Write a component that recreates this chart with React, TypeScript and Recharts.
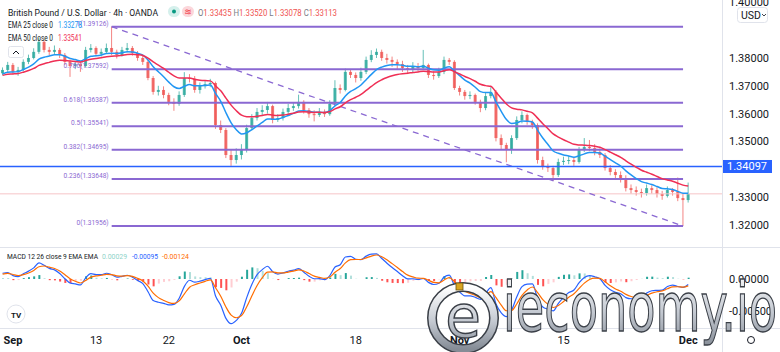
import React from "react";
import { ComposedChart, Bar, Line, XAxis, YAxis, ReferenceLine, Cell } from "recharts";

const FONT = "Roboto, 'Noto Sans', sans-serif";
const UP = "#26a69a";
const DOWN = "#ef5350";
const FIB_COLOR = "#8a68d2";

// GBPUSD, two 12h candles per trading day (Aug 31 .. Dec 1), open = previous close
const FIRST_OPEN = 1.3745;
const CLOSE = [
  1.3757, 1.3775, 1.375, 1.3757, 1.3786, 1.38, 1.3822, 1.3858, 1.3829, 1.3822,
  1.3829, 1.3811, 1.3786, 1.3771, 1.3778, 1.3771, 1.3829, 1.3836, 1.3815, 1.3822,
  1.3836, 1.3822, 1.3811, 1.3829, 1.3836, 1.3818, 1.38, 1.3786, 1.3728, 1.3678,
  1.3685, 1.3667, 1.3642, 1.3635, 1.3667, 1.3728, 1.3726, 1.3685, 1.3699, 1.3706,
  1.371, 1.3559, 1.3541, 1.3451, 1.3433, 1.3451, 1.3469, 1.3548, 1.3584, 1.3606,
  1.3613, 1.3627, 1.3577, 1.3584, 1.3606, 1.362, 1.3627, 1.3642, 1.3613, 1.3598,
  1.3595, 1.3606, 1.3598, 1.3635, 1.3692, 1.3685, 1.375, 1.3739, 1.3728, 1.375,
  1.3793, 1.3811, 1.3822, 1.38, 1.3793, 1.3786, 1.3778, 1.3764, 1.3757, 1.3771,
  1.3764, 1.3775, 1.3739, 1.3735, 1.375, 1.3793, 1.3786, 1.3692, 1.3678, 1.3663,
  1.3667, 1.3642, 1.362, 1.3663, 1.3678, 1.3512, 1.3487, 1.3469, 1.3512, 1.3577,
  1.3595, 1.357, 1.3559, 1.3433, 1.3408, 1.3404, 1.3379, 1.3426, 1.343, 1.3433,
  1.3426, 1.3469, 1.348, 1.3476, 1.3462, 1.3451, 1.3404, 1.339, 1.3379, 1.3368,
  1.3332, 1.3325, 1.3318, 1.3314, 1.3332, 1.3325, 1.3311, 1.3304, 1.3325, 1.3318,
  1.3296, 1.3289, 1.3311,
];
const HIGH = [
  1.3766, 1.3786, 1.3782, 1.3768, 1.3795, 1.3812, 1.3835, 1.3872, 1.3864, 1.384,
  1.3845, 1.3836, 1.3818, 1.3795, 1.379, 1.3786, 1.384, 1.385, 1.3842, 1.3834,
  1.3852, 1.3913, 1.383, 1.384, 1.3854, 1.3843, 1.3825, 1.3808, 1.3792, 1.3735,
  1.37, 1.3698, 1.3675, 1.3655, 1.368, 1.3749, 1.3742, 1.3735, 1.3712, 1.372,
  1.3725, 1.3715, 1.3575, 1.3548, 1.347, 1.3475, 1.349, 1.356, 1.3598, 1.362,
  1.363, 1.3642, 1.3632, 1.3598, 1.3618, 1.3635, 1.364, 1.3668, 1.3648, 1.362,
  1.3612, 1.362, 1.3615, 1.3648, 1.372, 1.3705, 1.3762, 1.3758, 1.3748, 1.3765,
  1.3805, 1.3828, 1.3834, 1.383, 1.3815, 1.3805, 1.3795, 1.379, 1.3775, 1.3785,
  1.3782, 1.3829, 1.378, 1.3752, 1.3765, 1.3805, 1.38, 1.3792, 1.37, 1.3685,
  1.368, 1.3672, 1.365, 1.3675, 1.3695, 1.3685, 1.3525, 1.3495, 1.3522, 1.359,
  1.3608, 1.36, 1.3578, 1.3565, 1.3445, 1.342, 1.3412, 1.3438, 1.3445, 1.3448,
  1.3442, 1.348, 1.3512, 1.3505, 1.349, 1.3475, 1.3458, 1.3415, 1.34, 1.3392,
  1.3378, 1.3345, 1.3338, 1.333, 1.3345, 1.3342, 1.3335, 1.3322, 1.3338, 1.3332,
  1.337, 1.3312, 1.3352,
];
const LOW = [
  1.3738, 1.375, 1.3742, 1.3736, 1.3752, 1.3778, 1.3795, 1.3815, 1.382, 1.381,
  1.3814, 1.38, 1.3775, 1.3732, 1.376, 1.375, 1.3765, 1.382, 1.3806, 1.3805,
  1.3815, 1.381, 1.3798, 1.3805, 1.382, 1.3808, 1.379, 1.3775, 1.372, 1.3668,
  1.3665, 1.3655, 1.363, 1.361, 1.3628, 1.366, 1.3712, 1.3675, 1.3672, 1.369,
  1.3695, 1.3545, 1.353, 1.344, 1.3412, 1.342, 1.3435, 1.346, 1.354, 1.3575,
  1.3595, 1.36, 1.3565, 1.357, 1.3575, 1.3598, 1.361, 1.3618, 1.36, 1.3585,
  1.3572, 1.3588, 1.3588, 1.3592, 1.3628, 1.3672, 1.368, 1.3728, 1.3712, 1.3718,
  1.3742, 1.3785, 1.38, 1.379, 1.378, 1.3768, 1.376, 1.375, 1.3742, 1.3748,
  1.3752, 1.3758, 1.3728, 1.3722, 1.3728, 1.3742, 1.3775, 1.3685, 1.3665, 1.365,
  1.3652, 1.3632, 1.3605, 1.3612, 1.3655, 1.35, 1.3472, 1.3425, 1.3455, 1.3505,
  1.3565, 1.356, 1.3545, 1.342, 1.3398, 1.339, 1.3358, 1.3372, 1.3415, 1.3418,
  1.3412, 1.342, 1.3462, 1.3465, 1.345, 1.344, 1.3395, 1.3378, 1.3365, 1.3352,
  1.332, 1.3312, 1.3305, 1.3298, 1.3305, 1.3312, 1.3298, 1.329, 1.3298, 1.3305,
  1.3285, 1.3196, 1.328,
];
const SLOTS = 139; // candles plus empty space on the right

// indicator state carried in from before the visible window
const EMA25_SEED = 1.3738;
const EMA50_SEED = 1.3735;
const FAST_SEED = 1.376;
const SLOW_SEED = 1.3748;
const SIGNAL_SEED = 0.0006;
const BARS_PER_CANDLE = 3; // 4h bars inside one 12h candle

const TICK_IDX = [2, 18, 32, 46, 68, 88, 108, 132];
const TICK_LABELS = ["Sep", "13", "22", "Oct", "18", "Nov", "15", "Dec"];
const MONTHS = ["Sep", "Oct", "Nov", "Dec"];

const PRICE_TICKS = [1.32, 1.33, 1.34, 1.35, 1.36, 1.37, 1.38, 1.4];
const PRICE_DOMAIN = [1.31201, 1.40086];
const MACD_TICKS = [0, -0.005];
const MACD_DOMAIN = [-0.00766, 0.00484];

const FIB_HIGH = 1.39126;
const FIB_LOW = 1.31956;
const FIB_FROM = 21;
const FIB_TO = 131;
const FIB_RATIOS = [1, 0.786, 0.618, 0.5, 0.382, 0.236, 0];
const H_LINE = 1.34097;
const LAST_CLOSE = 1.33113;

const HEADER_OHLC = ["1.33435", "1.33520", "1.33078", "1.33113"];
const EMA_LEGEND = ["1.33278", "1.33541"];
const MACD_LEGEND = ["0.00029", "-0.00095", "-0.00124"];

const alpha = (n: number) => 1 - Math.pow(1 - 2 / (n + 1), BARS_PER_CANDLE);

function buildRows() {
  let e25 = EMA25_SEED;
  let e50 = EMA50_SEED;
  let fast = FAST_SEED;
  let slow = SLOW_SEED;
  let sig = SIGNAL_SEED;
  let prevHist = FAST_SEED - SLOW_SEED - SIGNAL_SEED;
  const rows: any[] = CLOSE.map((c, i) => {
    const open = i === 0 ? FIRST_OPEN : CLOSE[i - 1];
    e25 += alpha(25) * (c - e25);
    e50 += alpha(50) * (c - e50);
    fast += alpha(12) * (c - fast);
    slow += alpha(26) * (c - slow);
    const macd = fast - slow;
    sig += alpha(9) * (macd - sig);
    const hist = macd - sig;
    let histColor;
    if (hist >= 0) histColor = hist >= prevHist ? "#26a69a" : "#b2dfdb";
    else histColor = hist < prevHist ? "#ff5252" : "#ffcdd2";
    prevHist = hist;
    return {
      i,
      range: [LOW[i], HIGH[i]],
      open,
      close: c,
      high: HIGH[i],
      low: LOW[i],
      ema25: e25,
      ema50: e50,
      macd,
      signal: sig,
      hist,
      histColor,
    };
  });
  for (let i = CLOSE.length; i < SLOTS; i++) rows.push({ i });
  return rows;
}

const rows = buildRows();

function Candle(props: any) {
  const { x, y, width, height, payload } = props;
  if (!payload || payload.open == null) return null;
  const { open, close, high, low } = payload;
  const top = Math.min(y, y + height);
  const h = Math.abs(height);
  const k = h / (high - low);
  const yO = top + (high - open) * k;
  const yC = top + (high - close) * k;
  const color = close >= open ? UP : DOWN;
  const cx = x + width / 2;
  return (
    <g>
      <line x1={cx} x2={cx} y1={top} y2={top + h} stroke={color} strokeWidth={1} opacity={0.7} />
      <rect
        x={x}
        y={Math.min(yO, yC)}
        width={width}
        height={Math.max(1, Math.abs(yO - yC))}
        fill={color}
        opacity={0.8}
      />
    </g>
  );
}

function FibLabel(props: any) {
  const { viewBox, text } = props;
  if (!viewBox) return null;
  return (
    <text x={viewBox.x - 3} y={viewBox.y - 1} textAnchor="end" fontSize={6.6} fill={FIB_COLOR} fontFamily={FONT}>
      {text}
    </text>
  );
}

// price axis tick; the blue horizontal level gets a filled tag
function PriceTick(props: any) {
  const { x, y, payload } = props;
  const v = Number(payload.value);
  if (v === H_LINE) {
    return (
      <g>
        <rect x={x - 7} y={y - 6.5} width={50} height={13} fill="#2962ff" />
        <text x={x - 7 + 25} y={y + 4} textAnchor="middle" fontSize={11} fill="#fff" fontFamily={FONT}>
          {v.toFixed(5)}
        </text>
      </g>
    );
  }
  return (
    <text x={x} y={y + 4} fontSize={11} fill="#131722" fontFamily={FONT}>
      {v.toFixed(5)}
    </text>
  );
}

function TimeTick(props: any) {
  const { x, y, payload } = props;
  const label = TICK_LABELS[TICK_IDX.indexOf(Number(payload.value))];
  if (!label) return null;
  return (
    <text
      x={x}
      y={y + 14}
      textAnchor="middle"
      fontSize={11}
      fontWeight={MONTHS.includes(label) ? 700 : 400}
      fill="#131722"
      fontFamily={FONT}
    >
      {label}
    </text>
  );
}

const fibText = (r: number) => `${r}(${(FIB_LOW + r * (FIB_HIGH - FIB_LOW)).toFixed(5)})`;

function Overlay() {
  const t = { fontFamily: FONT, fontSize: 8.5 };
  return (
    <svg width={780} height={352} style={{ position: "absolute", left: 0, top: 0, pointerEvents: "none" }}>
      <defs>
        <linearGradient id="wm" x1="0" y1="0" x2="0" y2="1">
          <stop offset="0" stopColor="#ffffff" />
          <stop offset="0.55" stopColor="#c5cad2" />
          <stop offset="1" stopColor="#858c96" />
        </linearGradient>
      </defs>
      <line x1={722.5} x2={722.5} y1={0} y2={352} stroke="#e0e3eb" />
      <line x1={0} x2={780} y1={247.5} y2={247.5} stroke="#e0e3eb" />
      <line x1={0} x2={780} y1={328.5} y2={328.5} stroke="#e0e3eb" />

      <text x={8} y={16} {...t} fontSize={9.5} fill="#131722" textLength={150} lengthAdjust="spacingAndGlyphs">
        British Pound / U.S. Dollar · 4h · OANDA
      </text>
      <rect x={168} y={6} width={12} height={11} rx={5.5} fill="#d5f0ec" />
      <circle cx={174} cy={11.5} r={2} fill="#089981" />
      <rect x={182} y={6} width={12} height={11} rx={5.5} fill="#fbd7db" />
      <text x={188} y={15} textAnchor="middle" fontSize={9} fill="#f23645" fontFamily="'DejaVu Sans'">≋</text>
      <text x={198} y={16} {...t} fontSize={9} fill="#787b86" textLength={139} lengthAdjust="spacingAndGlyphs">
        O<tspan fill={DOWN}>{HEADER_OHLC[0]}</tspan> H<tspan fill={DOWN}>{HEADER_OHLC[1]}</tspan> L<tspan fill={DOWN}>{HEADER_OHLC[2]}</tspan> C<tspan fill={DOWN}>{HEADER_OHLC[3]}</tspan>
      </text>

      <text x={8} y={28} {...t} fill="#131722" textLength={45} lengthAdjust="spacingAndGlyphs">EMA 25 close 0</text>
      <text x={58} y={28} {...t} fill="#2196f3" textLength={24} lengthAdjust="spacingAndGlyphs">{EMA_LEGEND[0]}</text>
      <text x={8} y={41} {...t} fill="#131722" textLength={45} lengthAdjust="spacingAndGlyphs">EMA 50 close 0</text>
      <text x={58} y={41} {...t} fill="#ef2f55" textLength={24} lengthAdjust="spacingAndGlyphs">{EMA_LEGEND[1]}</text>
      <rect x={8.5} y={46.5} width={15} height={11} rx={2} fill="#fff" stroke="#e0e3eb" />
      <path d="M13 54 L16 51 L19 54" fill="none" stroke="#131722" strokeWidth={1} />

      <text x={7} y={259} {...t} fontSize={8} fill="#131722" textLength={91} lengthAdjust="spacingAndGlyphs">MACD 12 26 close 9 EMA EMA</text>
      <text x={102} y={259} {...t} fontSize={8} fill="#8fd3c9" textLength={25} lengthAdjust="spacingAndGlyphs">{MACD_LEGEND[0]}</text>
      <text x={132} y={259} {...t} fontSize={8} fill="#2962ff" textLength={26} lengthAdjust="spacingAndGlyphs">{MACD_LEGEND[1]}</text>
      <text x={162} y={259} {...t} fontSize={8} fill="#ff6d00" textLength={27} lengthAdjust="spacingAndGlyphs">{MACD_LEGEND[2]}</text>

      <circle cx={16} cy={314} r={9} fill="#fff" stroke="#e0e3eb" />
      <text x={16} y={317.5} textAnchor="middle" fontSize={8} fontWeight={700} fill="#131722" fontFamily={FONT}>TV</text>

      <rect x={737.5} y={7.5} width={30} height={15} rx={3} fill="#fff" stroke="#e0e3eb" />
      <text x={741} y={19} fontSize={10.5} fill="#131722" fontFamily={FONT}>USD</text>
      <path d="M762 14 L764 16 L766 14" fill="none" stroke="#131722" strokeWidth={0.8} />
      <circle cx={751} cy={340} r={3.5} fill="none" stroke="#131722" strokeWidth={1} />

      <circle cx={463} cy={318} r={31} fill="none" stroke="#3a3f47" strokeWidth={10} />
      <circle cx={463} cy={318} r={31} fill="none" stroke="url(#wm)" strokeWidth={7} />
      <text x={463} y={337} textAnchor="middle" fontSize={58} fontFamily="'DejaVu Sans', sans-serif" fill="url(#wm)" stroke="#3a3f47" strokeWidth={1.4}>
        e
      </text>
      <rect x={456} y={283} width={7} height={7} fill="#d9a520" stroke="#6b5310" strokeWidth={0.8} />
      <text
        x={503}
        y={331}
        fontSize={68}
        fontFamily="'DejaVu Sans', sans-serif"
        textLength={274}
        lengthAdjust="spacingAndGlyphs"
        fill="url(#wm)"
        stroke="#3a3f47"
        strokeWidth={1.4}
      >
        ieconomy.io
      </text>
    </svg>
  );
}

export default function App() {
  const axisTick = { fontSize: 11, fill: "#131722", fontFamily: FONT };
  return (
    <div style={{ position: "absolute", left: 0, top: 0, width: 780, height: 352, background: "#fff", fontFamily: FONT }}>
      <div style={{ position: "absolute", left: 0, top: 0 }}>
        <ComposedChart width={780} height={247} data={rows} margin={{ top: 0, right: 0, bottom: 0, left: 0 }}>
          <XAxis dataKey="i" type="category" hide />
          <YAxis
            orientation="right"
            width={58}
            domain={PRICE_DOMAIN}
            ticks={[...PRICE_TICKS, H_LINE]}
            interval={0}
            allowDataOverflow
            axisLine={false}
            tickLine={false}
            tickSize={0}
            tickMargin={7}
            tick={(p: any) => <PriceTick {...p} />}
          />
          <ReferenceLine y={LAST_CLOSE} stroke="#f6c4c7" strokeWidth={1} />
          {FIB_RATIOS.map((r) => {
            const level = FIB_LOW + r * (FIB_HIGH - FIB_LOW);
            return (
              <ReferenceLine
                key={r}
                segment={[
                  { x: FIB_FROM, y: level },
                  { x: FIB_TO, y: level },
                ]}
                stroke={FIB_COLOR}
                strokeWidth={2}
                label={(p: any) => <FibLabel {...p} text={fibText(r)} />}
              />
            );
          })}
          <ReferenceLine
            segment={[
              { x: FIB_FROM, y: FIB_HIGH },
              { x: FIB_TO, y: FIB_LOW },
            ]}
            stroke={FIB_COLOR}
            strokeWidth={1.3}
            strokeDasharray="6 5"
          />
          <ReferenceLine y={H_LINE} stroke="#2962ff" strokeWidth={1.5} />
          <Bar dataKey="range" barSize={3} shape={(p: any) => <Candle {...p} />} isAnimationActive={false} />
          <Line dataKey="ema25" type="monotone" stroke="#2196f3" strokeWidth={1.5} dot={false} activeDot={false} isAnimationActive={false} />
          <Line dataKey="ema50" type="monotone" stroke="#ef2f55" strokeWidth={1.5} dot={false} activeDot={false} isAnimationActive={false} />
        </ComposedChart>
      </div>
      <div style={{ position: "absolute", left: 0, top: 247 }}>
        <ComposedChart width={780} height={105} data={rows} margin={{ top: 1, right: 0, bottom: 0, left: 0 }}>
          <XAxis
            dataKey="i"
            type="category"
            ticks={TICK_IDX}
            interval={0}
            height={24}
            axisLine={false}
            tickLine={false}
            tickSize={0}
            tick={(p: any) => <TimeTick {...p} />}
          />
          <YAxis
            orientation="right"
            width={58}
            domain={MACD_DOMAIN}
            ticks={MACD_TICKS}
            allowDataOverflow
            axisLine={false}
            tickLine={false}
            tickSize={0}
            tickMargin={7}
            tick={axisTick}
            tickFormatter={(v: number) => v.toFixed(5)}
          />
          <Bar dataKey="hist" barSize={2} isAnimationActive={false}>
            {rows.map((r) => (
              <Cell key={r.i} fill={r.histColor || "transparent"} />
            ))}
          </Bar>
          <Line dataKey="macd" type="monotone" stroke="#2962ff" strokeWidth={1.2} dot={false} activeDot={false} isAnimationActive={false} />
          <Line dataKey="signal" type="monotone" stroke="#ff6d00" strokeWidth={1.2} dot={false} activeDot={false} isAnimationActive={false} />
        </ComposedChart>
      </div>
      <Overlay />
    </div>
  );
}
